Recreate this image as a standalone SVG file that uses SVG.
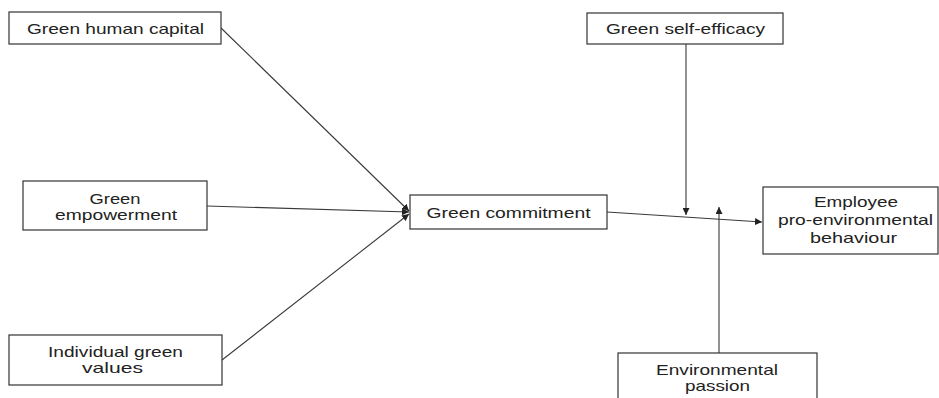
<svg xmlns="http://www.w3.org/2000/svg" width="939" height="398" viewBox="0 0 939 398">
<style>
.box{fill:#fff;stroke:#333;stroke-width:1.2}
.t{font-family:"Liberation Sans",Arial,sans-serif;font-size:15px;fill:#222;text-anchor:middle}
.c{stroke:#3a3a3a;stroke-width:1.1;fill:none;marker-end:url(#ah)}
</style>
<defs>
<marker id="ah" viewBox="0 0 10 10" refX="10" refY="5" markerWidth="7" markerHeight="7" markerUnits="userSpaceOnUse" orient="auto">
<path d="M0,0 L10,5 L0,10 z" fill="#222"/>
</marker>
</defs>
<rect width="939" height="398" fill="#fff"/>
<g id="connectors">
<line class="c" x1="221" y1="28" x2="409" y2="211"/>
<line class="c" x1="207" y1="206" x2="409" y2="212"/>
<line class="c" x1="222" y1="360" x2="409" y2="214"/>
<line class="c" x1="607" y1="212" x2="762" y2="222"/>
<line class="c" x1="686" y1="44" x2="686" y2="215"/>
<line class="c" x1="719" y1="353" x2="719" y2="207"/>
</g>
<g id="green-human-capital">
<rect class="box" x="9" y="12" width="212" height="32"/>
<text class="t" x="115.5" y="34" textLength="177" lengthAdjust="spacingAndGlyphs">Green human capital</text>
</g>
<g id="green-empowerment">
<rect class="box" x="23" y="181" width="184" height="49"/>
<text class="t" x="115" y="203.5" textLength="51" lengthAdjust="spacingAndGlyphs">Green</text>
<text class="t" x="116" y="219.5" textLength="122" lengthAdjust="spacingAndGlyphs">empowerment</text>
</g>
<g id="individual-green-values">
<rect class="box" x="9" y="335" width="213" height="50"/>
<text class="t" x="115.5" y="356.5" textLength="135" lengthAdjust="spacingAndGlyphs">Individual green</text>
<text class="t" x="112.5" y="373" textLength="61" lengthAdjust="spacingAndGlyphs">values</text>
</g>
<g id="green-commitment">
<rect class="box" x="410" y="195" width="197" height="34"/>
<text class="t" x="508.5" y="217.5" textLength="164" lengthAdjust="spacingAndGlyphs">Green commitment</text>
</g>
<g id="green-self-efficacy">
<rect class="box" x="587" y="13" width="196" height="31"/>
<text class="t" x="685.5" y="33.5" textLength="159" lengthAdjust="spacingAndGlyphs">Green self-efficacy</text>
</g>
<g id="environmental-passion">
<rect class="box" x="618" y="353" width="199" height="60"/>
<text class="t" x="717" y="375" textLength="122" lengthAdjust="spacingAndGlyphs">Environmental</text>
<text class="t" x="717.5" y="391" textLength="65" lengthAdjust="spacingAndGlyphs">passion</text>
</g>
<g id="employee-pro-environmental-behaviour">
<rect class="box" x="763" y="187" width="175" height="67"/>
<text class="t" x="856" y="207" textLength="84" lengthAdjust="spacingAndGlyphs">Employee</text>
<text class="t" x="855.5" y="225" textLength="155" lengthAdjust="spacingAndGlyphs">pro-environmental</text>
<text class="t" x="853.5" y="242.5" textLength="87" lengthAdjust="spacingAndGlyphs">behaviour</text>
</g>
</svg>
